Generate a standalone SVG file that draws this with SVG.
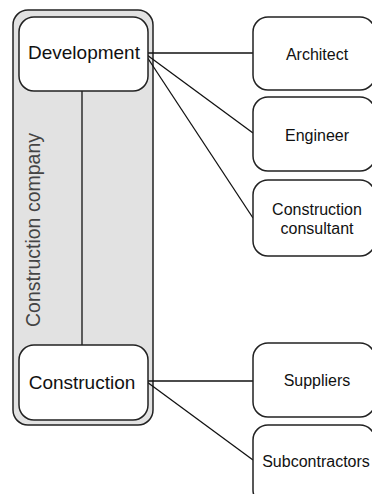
<svg xmlns="http://www.w3.org/2000/svg" width="372" height="494" viewBox="0 0 372 494">
<style>
.box{fill:#fff;stroke:#222;stroke-width:1.5}
.cont{fill:#e2e2e2;stroke:#222;stroke-width:1.5}
.lbl{font-family:"Liberation Sans",Arial,sans-serif;fill:#111;text-anchor:middle}
.big{font-size:19px}
.sm{font-size:16px}
.side{font-size:19.5px;fill:#444}
.conn{stroke:#111;stroke-width:1.3;fill:none}
</style>
<rect width="372" height="494" fill="#fff"/>
<g id="company">
<rect class="cont" x="13" y="10" width="140" height="415" rx="15"/>
<text class="lbl side" transform="translate(40,230) rotate(-90)">Construction company</text>
</g>
<g id="connectors">
<line class="conn" x1="82" y1="91" x2="82" y2="345"/>
<line class="conn" x1="147" y1="53" x2="253" y2="53"/>
<line class="conn" x1="147" y1="55" x2="253" y2="133"/>
<line class="conn" x1="147" y1="57" x2="253" y2="218"/>
<line class="conn" x1="147" y1="381" x2="253" y2="381"/>
<line class="conn" x1="147" y1="382" x2="253" y2="460"/>
</g>
<g id="development">
<rect class="box" x="19" y="17" width="129" height="74" rx="15"/>
<text class="lbl big" x="84" y="59">Development</text>
</g>
<g id="construction">
<rect class="box" x="19" y="345" width="129" height="75" rx="15"/>
<text class="lbl big" x="82" y="389">Construction</text>
</g>
<g id="architect">
<rect class="box" x="253" y="17" width="122" height="73" rx="15"/>
<text class="lbl sm" x="317" y="60">Architect</text>
</g>
<g id="engineer">
<rect class="box" x="253" y="97" width="122" height="74" rx="15"/>
<text class="lbl sm" x="317" y="141">Engineer</text>
</g>
<g id="consultant">
<rect class="box" x="253" y="180" width="122" height="76" rx="15"/>
<text class="lbl sm" x="317" y="215">Construction</text>
<text class="lbl sm" x="317" y="234">consultant</text>
</g>
<g id="suppliers">
<rect class="box" x="253" y="343" width="122" height="74" rx="15"/>
<text class="lbl sm" x="317" y="386">Suppliers</text>
</g>
<g id="subcontractors">
<rect class="box" x="253" y="425" width="122" height="80" rx="15"/>
<text class="lbl sm" x="316" y="467">Subcontractors</text>
</g>
</svg>
